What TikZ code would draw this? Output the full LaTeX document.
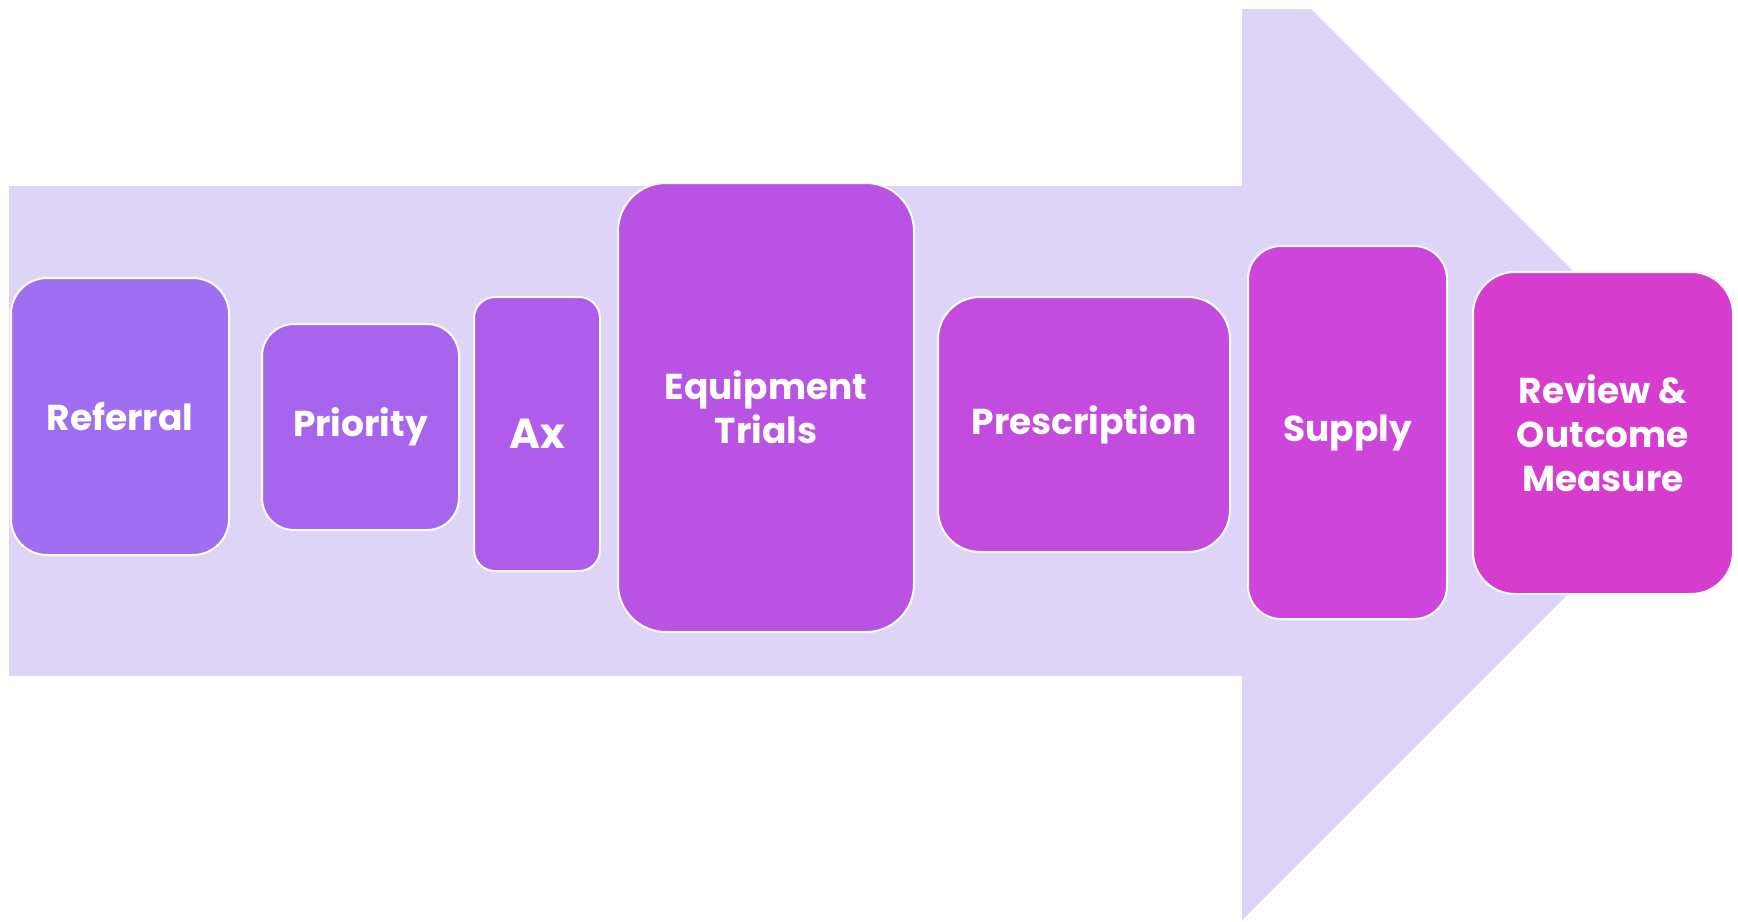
\documentclass[tikz,border=0pt]{standalone}
\usepackage{fontspec}
\usepackage{tikz}
\usepackage{xcolor}
\setmainfont{Poppins}

\definecolor{arrowfill}{HTML}{DDD4F8}
\definecolor{stepa}{HTML}{9F6EF1}
\definecolor{stepb}{HTML}{A765EE}
\definecolor{stepc}{HTML}{B05CEA}
\definecolor{stepd}{HTML}{B953E3}
\definecolor{stepe}{HTML}{C34CDF}
\definecolor{stepf}{HTML}{CD45DA}
\definecolor{stepg}{HTML}{D63DCF}

\begin{document}
\begin{tikzpicture} [x=0.5pt,y=-0.5pt,
  stagebox/.style={rectangle, draw=white, line width=1pt, text=white,
    align=center, inner sep=0pt,
    font=\bfseries\fontsize{18}{22}\selectfont}]

\useasboundingbox (0,0) rectangle (1738,921);

% big arrow behind the steps
\fill [arrowfill] (9,186) -- (1242,186) -- (1242,9) -- (1311,9) -- (1732,430)
  -- (1242,920) -- (1242,676) -- (9,676) -- cycle;

\node [stagebox, fill=stepa, minimum width=109pt, minimum height=138.5pt, rounded corners=18pt] (referral) at (120,416.5) {Referral};
\node [stagebox, fill=stepb, minimum width=98.5pt, minimum height=103pt, rounded corners=16pt] (priority) at (360.5,427) {Priority};
\node [stagebox, fill=stepc, minimum width=63pt, minimum height=137pt, rounded corners=10.5pt, font=\bfseries\fontsize{21}{24}\selectfont] (ax) at (537,434) {Ax};
\node [stagebox, fill=stepd, minimum width=148pt, minimum height=224.5pt, rounded corners=24pt] (trials) at (766,407.5) {Equipment\\Trials};
\node [stagebox, fill=stepe, minimum width=146pt, minimum height=127.5pt, rounded corners=21pt] (prescription) at (1084,424.5) {Prescription};
\node [stagebox, fill=stepf, minimum width=99.5pt, minimum height=186.5pt, rounded corners=16.5pt] (supply) at (1347.5,432.5) {Supply};
\node [stagebox, fill=stepg, minimum width=130pt, minimum height=161pt, rounded corners=21pt] (review) at (1603,433) {Review \&\\Outcome\\Measure};

\end{tikzpicture}
\end{document}
